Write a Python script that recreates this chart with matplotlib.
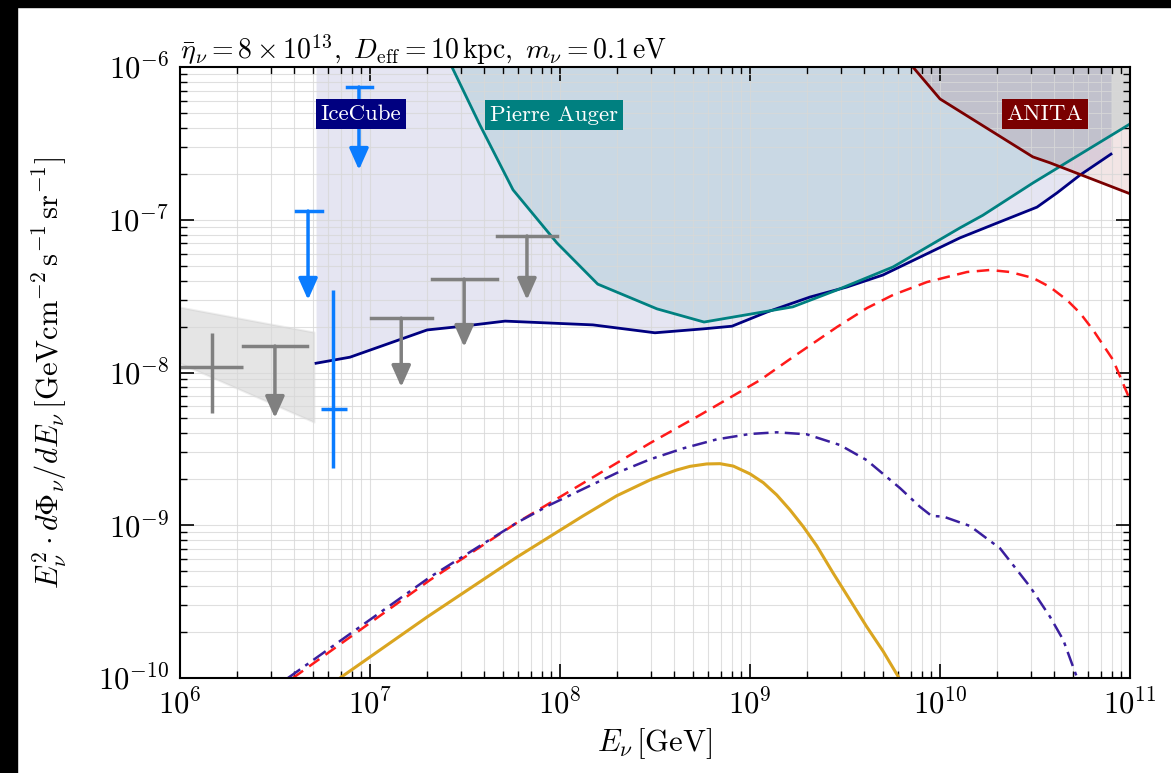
import numpy as np
import matplotlib.pyplot as plt
from matplotlib.patches import Rectangle

plt.rcParams['mathtext.fontset'] = 'cm'
plt.rcParams['font.family'] = 'serif'
plt.rcParams['font.serif'] = ['cmr10']
plt.rcParams['axes.unicode_minus'] = False
plt.rcParams['axes.formatter.use_mathtext'] = True

# IceCube sensitivity (navy)
icecube_E = [5.2e6, 7.85e6, 2.0e7, 3.08e7, 5.14e7, 1.49e8, 3.16e8, 5.66e8, 8.04e8, 1.23e9,
             2.07e9, 3.24e9, 5.01e9, 1.27e10, 2.0e10, 3.24e10, 4.13e10, 5.45e10, 7.94e10]
icecube_F = [1.15e-8, 1.26e-8, 1.90e-8, 2.01e-8, 2.17e-8, 2.05e-8, 1.82e-8, 1.93e-8, 2.01e-8, 2.49e-8,
             3.12e-8, 3.63e-8, 4.35e-8, 7.60e-8, 9.53e-8, 1.21e-7, 1.50e-7, 1.96e-7, 2.69e-7]

# Pierre Auger limit (teal)
auger_E = [2.07e7, 2.70e7, 3.79e7, 5.66e7, 9.64e7, 1.58e8, 3.24e8, 5.73e8, 1.68e9, 2.87e9,
           5.66e9, 1.27e10, 1.68e10, 3.08e10, 1.0e11]
auger_F = [2.0e-6, 1.0e-6, 4.17e-7, 1.57e-7, 7.05e-8, 3.79e-8, 2.61e-8, 2.14e-8, 2.69e-8, 3.47e-8,
           4.91e-8, 8.83e-8, 1.07e-7, 1.74e-7, 4.24e-7]

# ANITA limit (maroon)
anita_E = [4.47e9, 7.2e9, 1.0e10, 3.08e10, 3.79e10, 1.0e11]
anita_F = [2.0e-6, 1.0e-6, 6.18e-7, 2.58e-7, 2.36e-7, 1.48e-7]

# model fluxes
total_E = [3.93e6, 2.07e7, 5.94e7, 2.98e8, 5.46e8, 1.13e9, 1.684e9, 2.87e9, 4.13e9,
           5.66e9, 8.54e9, 1.387e10, 1.833e10, 2.336e10, 3.086e10, 3.79e10, 4.66e10, 5.46e10,
           6.39e10, 8.14e10, 1.0e11]
total_F = [1.0e-10, 4.38e-10, 1.04e-9, 3.45e-9, 5.27e-9, 8.92e-9, 1.263e-8, 1.986e-8, 2.644e-8,
           3.22e-8, 3.91e-8, 4.55e-8, 4.69e-8, 4.55e-8, 4.16e-8, 3.63e-8, 2.98e-8, 2.45e-8,
           1.90e-8, 1.21e-8, 6.61e-9]

dashdot_E = [3.70e6, 2.07e7, 5.94e7, 8.85e7, 1.99e8, 2.977e8, 4.46e8, 6.68e8, 1.0e9, 1.382e9,
             1.988e9, 2.977e9, 4.11e9, 6.16e9, 7.85e9, 9.04e9, 1.041e10, 1.439e10, 2.07e10,
             2.977e10, 3.79e10, 4.457e10, 5.24e10]
dashdot_F = [1.0e-10, 4.58e-10, 1.04e-9, 1.36e-9, 2.20e-9, 2.70e-9, 3.19e-9, 3.65e-9, 3.96e-9, 4.06e-9,
             3.94e-9, 3.35e-9, 2.67e-9, 1.75e-9, 1.32e-9, 1.15e-9, 1.14e-9, 9.89e-10, 7.06e-10,
             3.96e-10, 2.52e-10, 1.77e-10, 1.02e-10]

gold_E = [6.95e6, 2.0e7, 5.94e7, 1.32e8, 1.99e8, 2.977e8, 3.50e8, 4.11e8, 4.83e8, 5.92e8,
          6.95e8, 8.17e8, 1.0e9, 1.175e9, 1.382e9, 1.624e9, 1.908e9, 2.244e9, 2.745e9,
          3.36e9, 4.11e9, 5.03e9, 6.03e9]
gold_F = [1.0e-10, 2.51e-10, 6.19e-10, 1.15e-9, 1.56e-9, 1.98e-9, 2.14e-9, 2.30e-9, 2.43e-9, 2.52e-9,
          2.53e-9, 2.44e-9, 2.17e-9, 1.90e-9, 1.58e-9, 1.26e-9, 9.78e-10, 7.34e-10, 4.84e-10,
          3.24e-10, 2.17e-10, 1.49e-10, 1.02e-10]

# gray band and data (left)
band_E = [1.0e6, 5.07e6]
band_lo = [1.15e-8, 4.74e-9]
band_hi = [2.68e-8, 1.84e-8]

gray_pt_E, gray_pt_F = 1.47e6, 1.09e-8
gray_pt_xerr = [[1.47e6 - 1.0e6], [2.15e6 - 1.47e6]]
gray_pt_yerr = [[1.09e-8 - 5.43e-9], [1.82e-8 - 1.09e-8]]

gray_ul_E = [3.16e6, 1.46e7, 3.13e7, 6.7e7]
gray_ul_lo = [2.15e6, 1.01e7, 2.12e7, 4.66e7]
gray_ul_hi = [4.66e6, 2.12e7, 4.66e7, 9.6e7]
gray_ul_F = [1.49e-8, 2.27e-8, 4.09e-8, 7.83e-8]
gray_ul_tip = [5.04e-9, 8.04e-9, 1.47e-8, 2.99e-8]

blue_ul_E = [4.72e6, 8.75e6]
blue_ul_lo = [4.07e6, 7.57e6]
blue_ul_hi = [5.58e6, 1.02e7]
blue_ul_F = [1.14e-7, 7.4e-7]
blue_ul_tip = [2.99e-8, 2.12e-7]

blue_pt_E, blue_pt_F = 6.38e6, 5.77e-9
blue_pt_xerr = [[6.38e6 - 5.52e6], [7.57e6 - 6.38e6]]
blue_pt_yerr = [[5.77e-9 - 2.37e-9], [3.47e-8 - 5.77e-9]]

fig = plt.figure(figsize=(11.71, 7.73), dpi=100)
ax = fig.add_axes([0.1537, 0.1229, 0.8113, 0.7904])
ax.set_xscale('log')
ax.set_yscale('log')

# shaded regions
ax.fill_between(icecube_E, icecube_F, 1e-5, color='navy', alpha=0.1, lw=0)
ax.fill_between(auger_E, auger_F, 1e-5, color='teal', alpha=0.12, lw=0)
ax.fill_between(anita_E, anita_F, 1e-5, color='maroon', alpha=0.1, lw=0)
ax.fill_between(band_E, band_lo, band_hi, color='gray', alpha=0.2, edgecolor='#b0b0b0', lw=1.5)

ax.plot(icecube_E, icecube_F, color='navy', lw=2)
ax.plot(auger_E, auger_F, color='teal', lw=2)
ax.plot(anita_E, anita_F, color='#7a0000', lw=2)

ax.plot(total_E, total_F, color='#ff1a1a', lw=1.8, ls=(0, (5, 3)))
ax.plot(dashdot_E, dashdot_F, color='#3a1f9e', lw=1.8, ls=(0, (6, 2.5, 1.5, 2.5)))
ax.plot(gold_E, gold_F, color='goldenrod', lw=2.2)

# data points
ax.errorbar(gray_pt_E, gray_pt_F, xerr=gray_pt_xerr, yerr=gray_pt_yerr, color='gray', lw=2.5, capsize=0)
ax.errorbar(blue_pt_E, blue_pt_F, xerr=blue_pt_xerr, yerr=blue_pt_yerr, color='#0a7cff', lw=2.5, capsize=0)

def upper_limits(E, lo, hi, F, tip, col):
    for e, a, b, f, t in zip(E, lo, hi, F, tip):
        ax.plot([a, b], [f, f], color=col, lw=2.5)
        ax.annotate('', xy=(e, t), xytext=(e, f),
                    arrowprops=dict(arrowstyle='-|>,head_length=13,head_width=5.8',
                                    mutation_scale=1, color=col, lw=2.5,
                                    shrinkA=0, shrinkB=0))

upper_limits(gray_ul_E, gray_ul_lo, gray_ul_hi, gray_ul_F, gray_ul_tip, 'gray')
upper_limits(blue_ul_E, blue_ul_lo, blue_ul_hi, blue_ul_F, blue_ul_tip, '#0a7cff')

# labels
ax.text(8.98e6, 4.92e-7, 'IceCube', color='white', fontsize=16.5, ha='center', va='center',
        bbox=dict(facecolor='navy', edgecolor='none', pad=3.5), zorder=5)
ax.text(9.29e7, 4.85e-7, 'Pierre Auger', color='white', fontsize=16.5, ha='center', va='center',
        bbox=dict(facecolor='teal', edgecolor='none', pad=3.5), zorder=5)
ax.text(3.57e10, 4.92e-7, 'ANITA', color='white', fontsize=16.5, ha='center', va='center',
        bbox=dict(facecolor='#7a0000', edgecolor='none', pad=3.5), zorder=5)

ax.set_xlim(1e6, 1e11)
ax.set_ylim(1e-10, 1e-6)
ax.grid(True, which='both', color='#d8d8d8', lw=0.8, alpha=0.8)
ax.tick_params(which='both', direction='in', top=True, right=True, labelsize=22)
ax.tick_params(which='major', length=10, width=1.2, pad=8)
ax.tick_params(which='minor', length=5, width=1.0)
for s in ax.spines.values():
    s.set_linewidth(1.5)

ax.set_xlabel(r'$E_\nu\,[\mathrm{GeV}]$', fontsize=22)
ax.set_ylabel(r'$E_\nu^2 \cdot d\Phi_\nu/dE_\nu\,[\mathrm{GeV cm^{-2}\,s^{-1}\,sr^{-1}}]$',
              fontsize=22, labelpad=20)
ax.set_title(r'$\bar{\eta}_\nu = 8\times10^{13},\ D_{\rm eff} = 10\,{\rm kpc},\ m_\nu = 0.1\,{\rm eV}$',
             loc='left', fontsize=20, pad=6)

# black border of the original screenshot
fig.add_artist(Rectangle((0, 0), 17 / 1171, 1, transform=fig.transFigure, color='black'))
fig.add_artist(Rectangle((0, 1 - 7 / 773), 1, 7 / 773, transform=fig.transFigure, color='black'))

plt.savefig('out.png', dpi=100)
